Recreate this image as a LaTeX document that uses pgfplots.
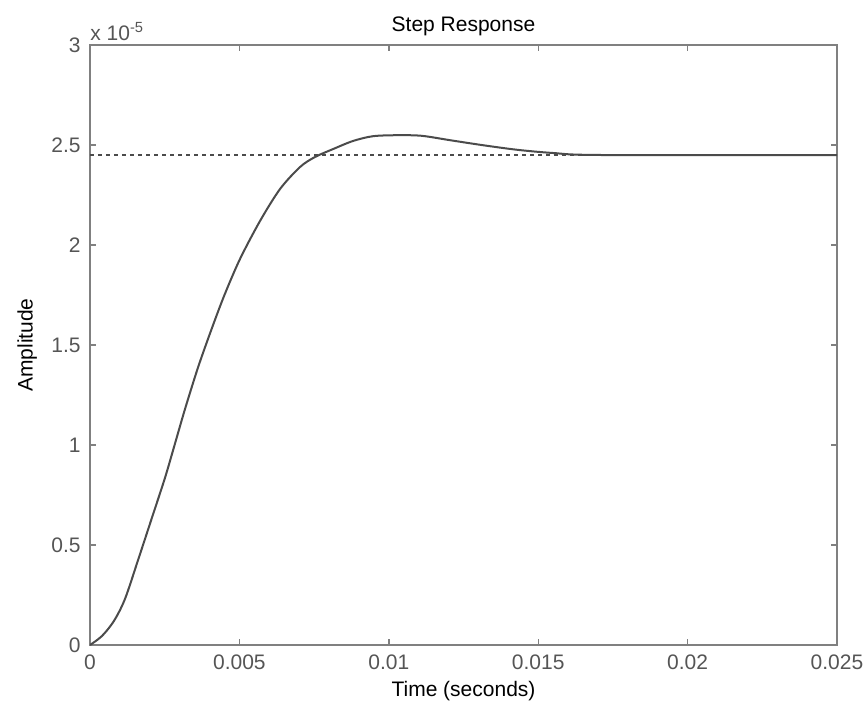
\documentclass[border=0pt]{standalone}
\usepackage{fontspec}
\setmainfont{Liberation Sans}
\usepackage{pgfplots}
\pgfplotsset{compat=1.18}
\definecolor{axgray}{RGB}{128,128,128}
\definecolor{txtgray}{RGB}{85,85,85}
\definecolor{curvegray}{RGB}{75,75,75}
\begin{document}
\fontsize{10.5}{12}\selectfont
\begin{tikzpicture}
\useasboundingbox (-45pt,-34pt) rectangle (387.5pt,322.5pt);
\begin{axis}[
    at={(0,0)}, anchor=south west,
    scale only axis,
    width=373.5pt, height=300pt,
    xmin=0, xmax=0.025,
    ymin=0, ymax=3e-5,
    xtick={0,0.005,0.01,0.015,0.02,0.025},
    ytick={0,0.5e-5,1e-5,1.5e-5,2e-5,2.5e-5,3e-5},
    scaled x ticks=false,
    scaled y ticks=base 10:5,
    ytick scale label code/.code={x 10\textsuperscript{-5}},
    every y tick scale label/.style={at={(rel axis cs:0,1)}, anchor=south west, inner sep=1pt, yshift=1pt, font=\fontsize{10.5}{12}\selectfont, text=txtgray},
    xticklabel style={/pgf/number format/fixed, /pgf/number format/precision=3},
    yticklabel style={/pgf/number format/fixed, /pgf/number format/precision=1},
    /pgf/number format/assume math mode=true,
    tick align=inside,
    major tick length=3pt,
    tick style={axgray, line width=0.7pt},
    axis line style={axgray, line width=1pt},
    ticklabel style={text=txtgray, font=\fontsize{10.5}{12}\selectfont},
    xticklabel style={yshift=-1pt},
    yticklabel style={xshift=-1pt},
    title={Step Response},
    title style={text=black, at={(0.5,1)}, yshift=-5pt},
    xlabel={Time (seconds)},
    ylabel={Amplitude},
    xlabel style={text=black, yshift=1pt},
    ylabel style={text=black, yshift=0pt},
]
\addplot[curvegray, line width=1.2pt, dash pattern=on 1.8pt off 2.2pt] coordinates {(0,2.45e-5) (0.025,2.45e-5)};
\addplot[curvegray, line width=1pt, smooth, tension=0.5] coordinates {
(0,0) (0.0004,0.045e-5) (0.0008,0.12e-5) (0.00117,0.23e-5) (0.00162,0.43e-5)
(0.00207,0.635e-5) (0.00251,0.836e-5) (0.00285,1.01e-5) (0.00318,1.18e-5)
(0.00362,1.39e-5) (0.00407,1.58e-5) (0.0045,1.75e-5) (0.00502,1.93e-5)
(0.00569,2.12e-5) (0.00636,2.28e-5) (0.00703,2.39e-5) (0.00753,2.44e-5)
(0.00814,2.48e-5) (0.0088,2.52e-5) (0.00947,2.544e-5) (0.0103,2.549e-5)
(0.0111,2.546e-5) (0.01205,2.524e-5) (0.01315,2.499e-5) (0.0143,2.476e-5)
(0.0155,2.46e-5) (0.0171,2.45e-5) (0.025,2.45e-5)
};
\end{axis}
\end{tikzpicture}
\end{document}
